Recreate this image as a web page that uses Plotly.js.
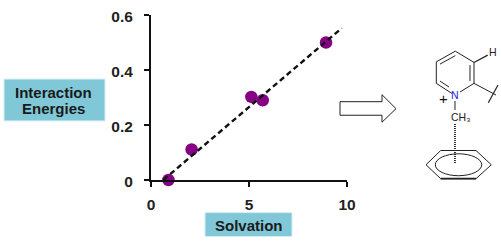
<!DOCTYPE html>
<html><head><meta charset="utf-8">
<script src="https://cdn.plot.ly/plotly-3.0.1.min.js"></script>
<style>html,body{margin:0;padding:0;background:#fff}#c{width:501px;height:241px}</style></head>
<body><div id="c"></div>
<script>
const solvation = [0.89, 2.07, 5.12, 5.7, 8.93];
const energies = [0.0, 0.111, 0.302, 0.29, 0.5];
const fitX = [0.63, 9.73];
const fitY = [0.0, 0.552];
const xTicks = [0, 5, 10];
const yTicks = [0, 0.2, 0.4, 0.6];
const yTickText = ['0', '0.2', '0.4', '0.6'];

const W = 501, H = 241, L = 151, R = 347, T = 14.7, B = 180.3;
const px = x => (x - L) / (R - L);
const py = y => (B - y) / (B - T);
const FONT = 'Liberation Sans, Arial, sans-serif';
const seg = (pts, w = 1, col = '#222', extra = {}) => ({
  type: 'path', xref: 'paper', yref: 'paper', layer: 'above',
  path: pts.map((p, i) => (i ? 'L' : 'M') + px(p[0]).toFixed(5) + ',' + py(p[1]).toFixed(5)).join(' '),
  line: {color: col, width: w, ...extra}
});
const box = (x0, y0, x1, y1) => ({
  type: 'rect', xref: 'paper', yref: 'paper', layer: 'below',
  x0: px(x0), x1: px(x1), y0: py(y1), y1: py(y0),
  fillcolor: '#80c8d8', line: {color: '#d5eef3', width: 1}
});
const label = (x, y, text, size, col = '#1a1a1a', bold = true) => ({
  xref: 'paper', yref: 'paper', x: px(x), y: py(y), text: bold ? '<b>' + text + '</b>' : text,
  showarrow: false, xanchor: 'center', yanchor: 'middle',
  font: {family: FONT, size, color: col}
});

const shapes = [
  box(4, 79, 105, 121),
  box(205, 213, 292, 237),
  // block arrow
  seg([[340, 101.7], [382, 101.7], [382, 94.7], [396, 108.7], [382, 122.3], [382, 115.3], [340, 115.3], [340, 101.7]], 1, '#222'),
  // pyridine ring
  seg([[452, 93.5], [436.3, 83.3], [436.3, 61.7], [455.3, 51], [474, 62.3], [474, 83.3], [460, 92]], 1),
  seg([[440, 81], [449, 87]], 1),
  seg([[440, 64], [455.3, 55.5]], 1),
  seg([[470, 65], [470, 81]], 1),
  seg([[474, 62.3], [487.7, 55]], 1.2),
  seg([[474, 83.3], [496, 95]], 1),
  seg([[498, 85], [488.3, 102.7]], 1.2),
  seg([[455, 101], [455, 110]], 1),
  // hashed bond
  seg([[455, 124], [455, 164]], 2, '#333', {dash: '1px,1px'}),
  // benzene ring
  seg([[426, 165], [440.7, 150.7], [476, 150.7], [491.3, 165], [476, 179], [440.7, 179], [426, 165]], 1),
  seg([[440.7, 179], [476, 179]], 1.8),
  {type: 'circle', xref: 'paper', yref: 'paper', layer: 'above',
   x0: px(435.3), x1: px(481.7), y0: py(176), y1: py(154), line: {color: '#222', width: 1}}
];

const annotations = [
  label(53, 92, 'Interaction', 15),
  label(53, 108.5, 'Energies', 15),
  label(249, 226, 'Solvation', 15),
  label(455, 95, 'N', 10.5, '#1a1ae0', false),
  label(443.3, 98.5, '+', 15, '#111', false),
  label(460.7, 117.5, 'CH₃', 10.5, '#222', false),
  label(492.7, 51.5, 'H', 10.5, '#222', false)
];

const fit = {x: fitX, y: fitY, mode: 'lines', cliponaxis: false, hoverinfo: 'skip',
  line: {color: '#111', width: 2.4, dash: '5.5px,3.5px'}};
const pts = {x: solvation, y: energies, mode: 'markers', cliponaxis: false,
  marker: {color: '#850085', size: 12.5}};

const axis = {
  showgrid: false, zeroline: false, showline: true, linecolor: '#111', linewidth: 2,
  ticks: 'outside', ticklen: 5, tickwidth: 2, tickcolor: '#111',
  tickfont: {family: FONT, size: 15.5, color: '#222', weight: 700}
};

Plotly.newPlot('c', [pts, fit], {
  width: W, height: H, showlegend: false,
  paper_bgcolor: '#fff', plot_bgcolor: '#fff',
  margin: {l: L, r: W - R, t: T, b: H - B, pad: 0},
  xaxis: {...axis, range: [0, 10], tickmode: 'array', tickvals: xTicks, ticktext: xTicks.map(String), ticklabelstandoff: 4},
  yaxis: {...axis, range: [0, 0.6], tickmode: 'array', tickvals: yTicks, ticktext: yTickText, ticklabelstandoff: 8, ticklabelshift: 2},
  shapes, annotations
}, {displayModeBar: false, staticPlot: true});
</script></body></html>
